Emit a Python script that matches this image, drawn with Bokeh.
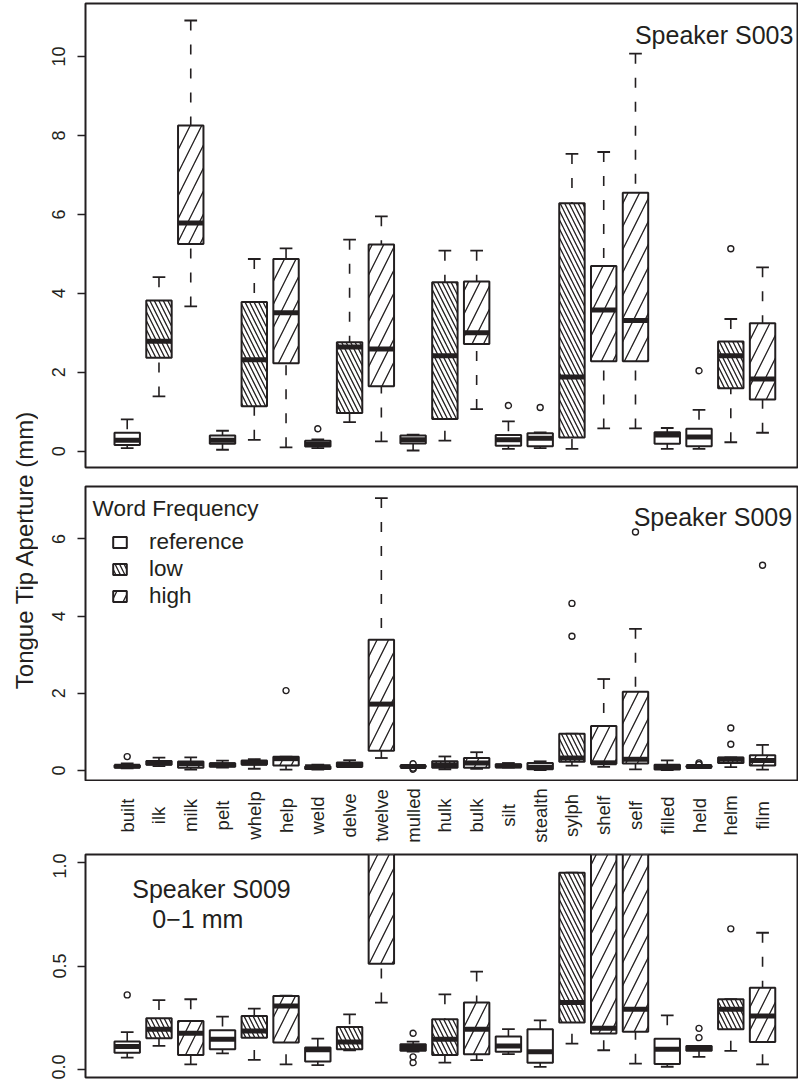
import math
from bokeh.plotting import figure
from bokeh.models import (Range1d, FixedTicker, ColumnDataSource, Label, Legend,
                          LegendItem, NumeralTickFormatter)
from bokeh.layouts import column, row
from bokeh.embed import file_html
from bokeh.resources import INLINE
from bokeh.core.properties import value

# ---------------- data ----------------
words = ["built", "ilk", "milk", "pelt", "whelp", "help", "weld", "delve", "twelve",
         "mulled", "hulk", "bulk", "silt", "stealth", "sylph", "shelf", "self",
         "filled", "held", "helm", "film"]
freq = ["reference", "low", "high", "reference", "low", "high", "reference", "low", "high",
        "reference", "low", "high", "reference", "reference", "low", "high", "high",
        "reference", "reference", "low", "high"]

# Speaker S003 (mm)
s003_lower = [0.08, 1.39, 3.67, 0.04, 0.29, 0.10, 0.08, 0.74, 0.25, 0.02, 0.27, 1.07,
              0.06, 0.08, 0.06, 0.58, 0.58, 0.06, 0.06, 0.23, 0.47]
s003_q1 = [0.16, 2.37, 5.25, 0.19, 1.14, 2.23, 0.12, 0.97, 1.65, 0.20, 0.82, 2.72,
           0.14, 0.13, 0.35, 2.28, 2.28, 0.19, 0.13, 1.60, 1.31]
s003_median = [0.28, 2.79, 5.78, 0.28, 2.32, 3.51, 0.18, 2.64, 2.59, 0.29, 2.42, 3.00,
               0.29, 0.33, 1.88, 3.58, 3.31, 0.41, 0.36, 2.42, 1.83]
s003_q3 = [0.47, 3.82, 8.25, 0.40, 3.78, 4.87, 0.27, 2.76, 5.24, 0.40, 4.28, 4.30,
           0.41, 0.46, 6.28, 4.69, 6.55, 0.48, 0.57, 2.78, 3.24]
s003_upper = [0.81, 4.41, 10.91, 0.52, 4.87, 5.14, 0.30, 5.36, 5.95, 0.42, 5.08, 5.08,
              0.76, 0.48, 7.53, 7.58, 10.07, 0.59, 1.05, 3.35, 4.66]
s003_outliers = [[], [], [], [], [], [], [0.57], [], [], [], [], [],
                 [1.16], [1.11], [], [], [], [], [2.04], [5.13], []]

# Speaker S009 (mm)
s009_lower = [0.056, 0.113, 0.024, 0.077, 0.045, 0.024, 0.020, 0.092, 0.323, 0.085, 0.032, 0.044,
              0.073, 0.011, 0.124, 0.092, 0.027, 0.012, 0.060, 0.089, 0.024]
s009_q1 = [0.080, 0.150, 0.069, 0.097, 0.153, 0.129, 0.038, 0.097, 0.511, 0.089, 0.069, 0.073,
           0.085, 0.032, 0.226, 0.173, 0.182, 0.025, 0.089, 0.194, 0.132]
s009_median = [0.110, 0.194, 0.174, 0.145, 0.185, 0.306, 0.095, 0.132, 1.72, 0.105, 0.145, 0.194,
               0.113, 0.085, 0.323, 0.198, 0.290, 0.097, 0.100, 0.290, 0.258]
s009_q3 = [0.134, 0.247, 0.234, 0.189, 0.258, 0.355, 0.105, 0.205, 3.39, 0.121, 0.242, 0.323,
           0.158, 0.194, 0.952, 1.15, 2.04, 0.148, 0.113, 0.339, 0.395]
s009_upper = [0.180, 0.335, 0.339, 0.255, 0.294, 0.357, 0.148, 0.266, 7.06, 0.134, 0.363, 0.473,
              0.194, 0.237, 0.952, 2.37, 3.67, 0.261, 0.113, 0.339, 0.661]
s009_outliers = [[0.36], [], [], [], [], [2.07], [], [], [], [0.174, 0.06, 0.032], [], [],
                 [], [], [3.48, 4.33], [], [6.18], [], [0.153, 0.198], [0.68, 1.10], [5.32]]

# ---------------- styling ----------------
INK = "#231f20"
FONT = "Liberation Sans"
X_START, X_END = -0.313, 22.10
BOX_W = 0.8
STAPLE_W = 0.4
HATCH = {"reference": (None, 1), "low": ("\\", 9), "high": ("/", 23)}


def draw_boxes(p, lower, q1, med, q3, upper, outliers):
    xs = list(range(1, len(words) + 1))
    wsrc = ColumnDataSource(dict(x=xs, lower=lower, q1=q1, q3=q3, upper=upper))
    # whiskers drawn from the whisker end towards the hinge (as R does)
    p.segment(x0="x", y0="upper", x1="x", y1="q3", source=wsrc, line_color=INK,
              line_width=1.6, line_dash="10 14")
    p.segment(x0="x", y0="lower", x1="x", y1="q1", source=wsrc, line_color=INK,
              line_width=1.6, line_dash="10 14")
    ssrc = ColumnDataSource(dict(x0=[x - STAPLE_W / 2 for x in xs], x1=[x + STAPLE_W / 2 for x in xs],
                                 lower=lower, upper=upper))
    p.segment(x0="x0", y0="upper", x1="x1", y1="upper", source=ssrc, line_color=INK, line_width=1.8)
    p.segment(x0="x0", y0="lower", x1="x1", y1="lower", source=ssrc, line_color=INK, line_width=1.8)
    renderers = {}
    for kind in ["reference", "low", "high"]:
        idx = [i for i, f in enumerate(freq) if f == kind]
        src = ColumnDataSource(dict(x=[xs[i] for i in idx], q1=[q1[i] for i in idx],
                                    q3=[q3[i] for i in idx]))
        pat, sc = HATCH[kind]
        kw = {}
        if pat is not None:
            kw = dict(hatch_pattern=pat, hatch_scale=sc, hatch_weight=1.3, hatch_color=INK)
        renderers[kind] = p.vbar(x="x", bottom="q1", top="q3", width=BOX_W, source=src,
                                 fill_color="white", line_color=INK, line_width=2, **kw)
    msrc = ColumnDataSource(dict(x0=[x - BOX_W / 2 for x in xs], x1=[x + BOX_W / 2 for x in xs], m=med))
    p.segment(x0="x0", y0="m", x1="x1", y1="m", source=msrc, line_color=INK, line_width=5,
              line_cap="butt")
    ox, oy = [], []
    for i, lst in enumerate(outliers):
        for v in lst:
            ox.append(xs[i])
            oy.append(v)
    p.scatter(ox, oy, marker="circle", size=6, fill_color=None, line_color=INK, line_width=1.4)
    return renderers


def make_panel(height, btop, bbottom, ystart, yend, ticks, fmt=None):
    p = figure(width=760, height=height, output_backend="svg", toolbar_location=None,
               x_range=Range1d(X_START, X_END), y_range=Range1d(ystart, yend),
               min_border_left=47, min_border_right=1, min_border_top=btop,
               min_border_bottom=bbottom, x_axis_location=None)
    p.grid.visible = False
    p.outline_line_color = INK
    p.outline_line_width = 2
    p.background_fill_color = "white"
    ax = p.yaxis[0]
    ax.ticker = FixedTicker(ticks=ticks)
    if fmt:
        ax.formatter = NumeralTickFormatter(format=fmt)
    ax.axis_line_color = None
    ax.major_tick_out = 8
    ax.major_tick_in = 0
    ax.minor_tick_line_color = None
    ax.major_tick_line_color = INK
    ax.major_tick_line_width = 1.5
    ax.major_label_orientation = "vertical"
    ax.major_label_standoff = 12
    ax.major_label_text_font = FONT
    ax.major_label_text_font_size = "18px"
    ax.major_label_text_color = INK
    return p


def speaker_label(p, x, y, text, align="right"):
    p.add_layout(Label(x=x, y=y, text=text, text_font=FONT, text_font_size="25px",
                       text_color=INK, text_align=align, text_baseline="alphabetic"))


# Panel 1: S003
p1 = make_panel(474, 1, 9, -0.41, 11.34, [0, 2, 4, 6, 8, 10])
draw_boxes(p1, s003_lower, s003_q1, s003_median, s003_q3, s003_upper, s003_outliers)
speaker_label(p1, 21.97, 10.55, "Speaker S003")

# Panel 2: S009 full range
p2 = make_panel(305, 10, 1, -0.26, 7.36, [0, 2, 4, 6])
r2 = draw_boxes(p2, s009_lower, s009_q1, s009_median, s009_q3, s009_upper, s009_outliers)
speaker_label(p2, 21.93, 6.56, "Speaker S009")
p2.add_layout(Label(x=-0.09, y=6.8, text="Word Frequency", text_font=FONT, text_font_size="22.5px",
                    text_color=INK, text_baseline="alphabetic"))
legend = Legend(items=[LegendItem(label=k, renderers=[r2[k]]) for k in ["reference", "low", "high"]],
                location=(26, 171), glyph_width=17, glyph_height=14, label_standoff=21,
                label_text_font=FONT, label_text_font_size="22.5px", label_text_color=INK,
                label_height=27, spacing=0, padding=0, margin=0,
                background_fill_alpha=0, border_line_alpha=0)
p2.add_layout(legend)

# Category labels strip
pl = figure(width=760, height=72, output_backend="svg", toolbar_location=None,
            x_range=p1.x_range, y_range=Range1d(0, 1), min_border_left=47, min_border_right=1,
            min_border_top=0, min_border_bottom=0, x_axis_location=None, y_axis_location=None)
pl.grid.visible = False
pl.outline_line_color = None
pl.text(x=list(range(1, len(words) + 1)), y=[0.528] * len(words), text=words, angle=math.pi / 2,
        text_align="center", text_baseline="middle", text_font=value(FONT),
        text_font_size="18.5px", text_color=INK)

# Panel 3: S009 zoomed 0-1 mm
p3 = make_panel(226, 1, 2, -0.04, 1.04, [0.0, 0.5, 1.0], fmt="0.0")
draw_boxes(p3, s009_lower, s009_q1, s009_median, s009_q3, s009_upper, s009_outliers)
speaker_label(p3, 1.16, 0.873, "Speaker S009", align="left")
speaker_label(p3, 1.79, 0.728, "0\u22121 mm", align="left")

# Y title strip
pt = figure(width=38, height=1077, output_backend="svg", toolbar_location=None,
            x_range=Range1d(0, 1), y_range=Range1d(0, 1), min_border=0,
            x_axis_location=None, y_axis_location=None)
pt.grid.visible = False
pt.outline_line_color = None
pt.add_layout(Label(x=0.632, y=0.492, text="Tongue Tip Aperture (mm)", angle=math.pi / 2,
                    text_font=FONT, text_font_size="24px", text_color=INK,
                    text_align="center", text_baseline="alphabetic"))

layout = row(pt, column(p1, p2, pl, p3), margin=(2, 0, 0, 0))
open("out.html", "w").write(file_html(layout, INLINE))
